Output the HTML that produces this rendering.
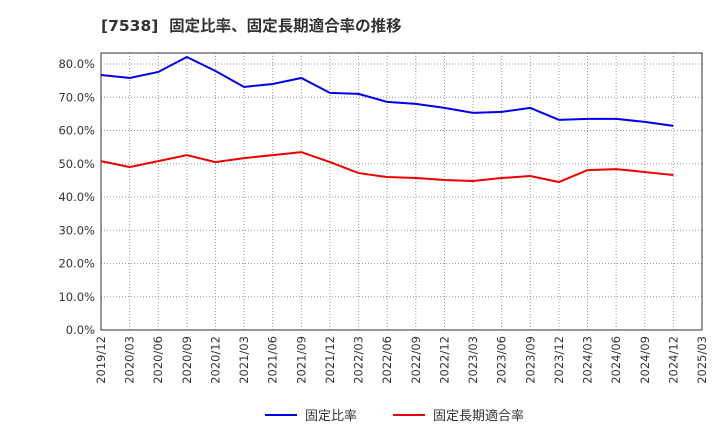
<!DOCTYPE html>
<html><head><meta charset="utf-8">
<style>
body{margin:0;background:#fff;width:720px;height:440px;overflow:hidden;font-family:"DejaVu Sans","Noto Sans CJK JP",sans-serif;}
</style></head>
<body>
<svg id="chart" width="720" height="440" xmlns="http://www.w3.org/2000/svg" font-family="DejaVu Sans, Noto Sans CJK JP, sans-serif">
<text x="101" y="31" font-size="15.5" font-weight="bold" fill="#333" xml:space="preserve" style="white-space:pre">[7538]  固定比率、固定長期適合率の推移</text>
<g id="grid"></g><g id="axes"></g><g id="series"></g>
<g>
<line x1="265" y1="415" x2="297" y2="415" stroke="#0000ee" stroke-width="2"/>
<text x="305" y="420" font-size="13" fill="#333">固定比率</text>
<line x1="393" y1="415" x2="425" y2="415" stroke="#ee0000" stroke-width="2"/>
<text x="433" y="420" font-size="13" fill="#333">固定長期適合率</text>
</g>
</svg>
<script>
const categories=["2019/12","2020/03","2020/06","2020/09","2020/12","2021/03","2021/06","2021/09","2021/12","2022/03","2022/06","2022/09","2022/12","2023/03","2023/06","2023/09","2023/12","2024/03","2024/06","2024/09","2024/12","2025/03"];
const fixedRatio=[76.7,75.8,77.6,82.1,77.9,73.1,74.0,75.8,71.3,71.0,68.6,68.0,66.8,65.3,65.6,66.8,63.2,63.5,63.5,62.6,61.4];
const fixedLongTermRatio=[50.8,49.0,50.8,52.6,50.5,51.7,52.6,53.5,50.5,47.2,46.0,45.7,45.1,44.8,45.7,46.3,44.5,48.1,48.4,47.5,46.6];
const yTicks=[0,10,20,30,40,50,60,70,80];
const NS="http://www.w3.org/2000/svg";
const L=101,R=702,T=53,B=330;
const x=i=>L+i*(R-L)/(categories.length-1);
const y=v=>B-v*3.325;
function mk(tag,attrs,parent){const e=document.createElementNS(NS,tag);for(const k in attrs)e.setAttribute(k,attrs[k]);parent.appendChild(e);return e;}
const grid=document.getElementById('grid'),axes=document.getElementById('axes'),series=document.getElementById('series');
yTicks.forEach(v=>{
 const g=mk('line',{x1:L,x2:R,y1:y(v),y2:y(v),stroke:'#999','stroke-dasharray':'1,2','stroke-width':1},grid);
 
 
 const t=mk('text',{x:L-6,y:y(v)+4,'text-anchor':'end','font-size':11.5,fill:'#333'},axes);
 
 
 t.textContent=v.toFixed(1)+'%';
});
categories.forEach((c,i)=>{
 const g=mk('line',{x1:x(i),x2:x(i),y1:T,y2:B,stroke:'#999','stroke-dasharray':'1,2','stroke-width':1},grid);
 
 
 const t=mk('text',{x:0,y:0,'text-anchor':'end','font-size':11.5,fill:'#333',transform:`translate(${x(i)+4},${B+6}) rotate(-90)`},axes);
 
 
 t.textContent=c;
});
const frame=mk('rect',{x:L,y:T,width:R-L,height:B-T,fill:'none',stroke:'#333','stroke-width':1},axes);


function line(data,color,name){
 const p=mk('polyline',{points:data.map((v,i)=>x(i)+','+y(v)).join(' '),fill:'none',stroke:color,'stroke-width':2},series);
 
 
}
line(fixedRatio,'#0000ee','fixed-ratio-line');
line(fixedLongTermRatio,'#ee0000','fixed-long-term-ratio-line');
</script>
</body></html>
